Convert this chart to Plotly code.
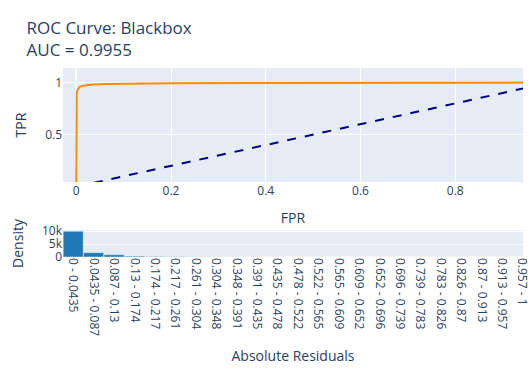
import plotly.graph_objects as go
from plotly.subplots import make_subplots

# ROC curve points (false positive rate / true positive rate)
fpr = [0.0, 0.0, 0.0005, 0.001, 0.002, 0.004, 0.007, 0.012, 0.02, 0.035,
       0.06, 0.1, 0.2, 0.4, 0.6, 0.8, 1.0]
tpr = [0.0, 0.6, 0.85, 0.9, 0.925, 0.945, 0.958, 0.968, 0.975, 0.981,
       0.986, 0.99, 0.993, 0.996, 0.998, 0.999, 1.0]
auc_value = 0.9955

# Chance diagonal
diag_x = [0, 1]
diag_y = [0, 1]

# Histogram of absolute residuals (23 equal bins over [0, 1])
bin_labels = [
    "0 - 0.0435", "0.0435 - 0.087", "0.087 - 0.13", "0.13 - 0.174",
    "0.174 - 0.217", "0.217 - 0.261", "0.261 - 0.304", "0.304 - 0.348",
    "0.348 - 0.391", "0.391 - 0.435", "0.435 - 0.478", "0.478 - 0.522",
    "0.522 - 0.565", "0.565 - 0.609", "0.609 - 0.652", "0.652 - 0.696",
    "0.696 - 0.739", "0.739 - 0.783", "0.783 - 0.826", "0.826 - 0.87",
    "0.87 - 0.913", "0.913 - 0.957", "0.957 - 1",
]
bin_counts = [9900, 1650, 870, 330, 180, 120, 70, 45, 30, 20, 15, 10,
              8, 6, 5, 4, 3, 3, 2, 2, 2, 1, 1]

fig = make_subplots(rows=2, cols=1)

fig.add_trace(go.Scatter(x=fpr, y=tpr, mode="lines",
                         line=dict(color="darkorange", width=2),
                         showlegend=False), row=1, col=1)
fig.add_trace(go.Scatter(x=diag_x, y=diag_y, mode="lines",
                         line=dict(color="navy", width=2, dash="dash"),
                         showlegend=False), row=1, col=1)
fig.add_trace(go.Bar(x=bin_labels, y=bin_counts,
                     marker=dict(color="#1f77b4"),
                     showlegend=False), row=2, col=1)

fig.update_layout(
    template="plotly",
    width=531, height=370,
    margin=dict(l=63, r=0, t=68, b=113),
    title=dict(text=f"ROC Curve: Blackbox<br>AUC = {auc_value}", x=0.05),
    bargap=0.02,
    xaxis=dict(domain=[0, 1], range=[-0.028, 0.943], title=dict(text="FPR")),
    yaxis=dict(domain=[0.397, 1], range=[0.045, 1.14], dtick=0.5,
               title=dict(text="TPR")),
    xaxis2=dict(domain=[0, 1], range=[-0.5, 22.03], tickangle=90,
                title=dict(text="Absolute Residuals")),
    yaxis2=dict(domain=[0, 0.143], range=[0, 10400], dtick=5000,
                title=dict(text="Density")),
)

fig.write_html("out.html")
